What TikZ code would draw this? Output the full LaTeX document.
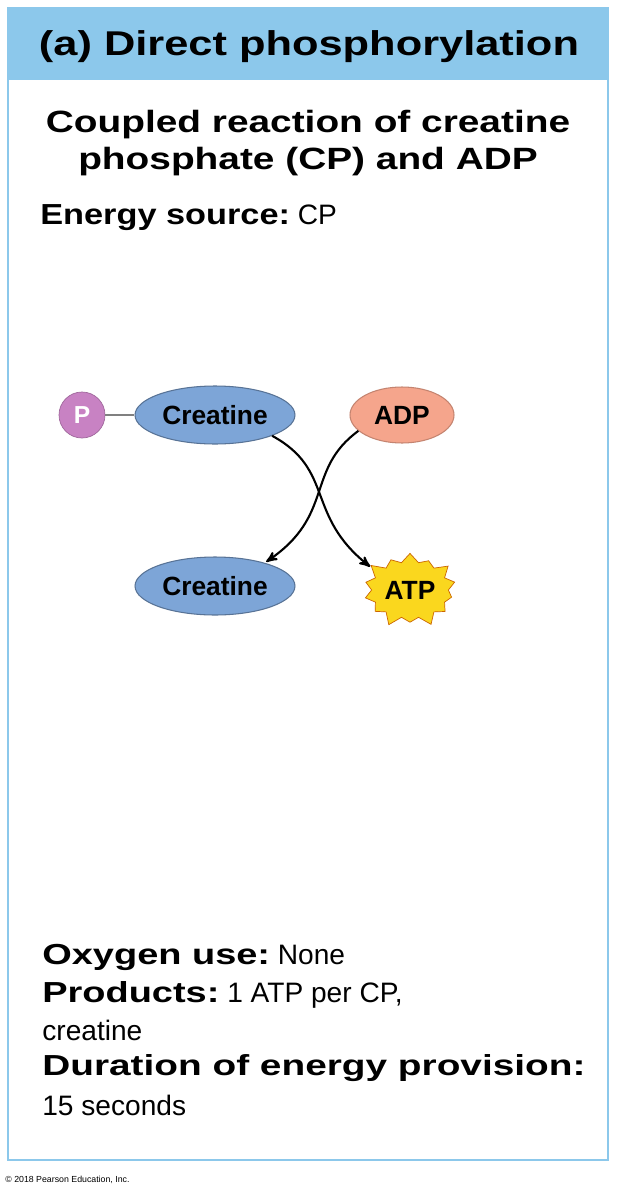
\documentclass[tikz,border=0pt]{standalone}
\usepackage{fontspec}
\setmainfont{Liberation Sans}
\usetikzlibrary{arrows,shapes.geometric,shapes.symbols}
\definecolor{frameblue}{RGB}{140,200,235}
\definecolor{creablue}{RGB}{125,165,215}
\definecolor{adpred}{RGB}{245,165,140}
\definecolor{ppurple}{RGB}{200,130,195}
\definecolor{atpyellow}{RGB}{250,215,30}
\newcommand{\widebf}[2][1.3]{\scalebox{#1}[1.03]{\bfseries #2}}
\begin{document}
\begin{tikzpicture}[x=0.02cm,y=-0.02cm,>=stealth',
    mol/.style={ellipse,draw=creablue!70!black,line width=0.6pt,inner sep=1pt,font=\fontsize{15}{18}\bfseries\selectfont},
    txt/.style={anchor=west,font=\fontsize{16}{19}\selectfont,inner sep=0pt},
    react/.style={->,line width=1.2pt,shorten >=1pt}]
    \useasboundingbox (0,0) rectangle (616,1200);
    \fill[white] (0,0) rectangle (616,1200);
    \fill[frameblue] (8,8) rectangle (608,80);
    \draw[frameblue,line width=1.5pt] (8,8) rectangle (608,1160);
    \node[font=\fontsize{19}{22}\selectfont] (title) at (309,47) {\widebf{(a) Direct phosphorylation}};
    \node[font=\fontsize{17}{20}\selectfont] (head) at (308,125) {\widebf{Coupled reaction of creatine}};
    \node[font=\fontsize{17}{20}\selectfont] (head2) at (308,162) {\widebf{phosphate (CP) and ADP}};
    \node[txt] (source) at (40,218) {\widebf[1.22]{Energy source:} CP};
    % reactants
    \node[circle,fill=ppurple,draw=ppurple!80!black,minimum size=0.92cm,inner sep=0pt,text=white,font=\fontsize{14}{16}\bfseries\selectfont] (p) at (82,415) {P};
    \node[mol,fill=creablue,minimum width=3.2cm,minimum height=1.16cm] (cp) at (215,415) {Creatine};
    \node[mol,fill=adpred,draw=adpred!80!black,minimum width=2.08cm,minimum height=1.12cm] (adp) at (402,415) {ADP};
    \draw[gray,line width=1pt] (p) -- (cp);
    % products
    \node[mol,fill=creablue,minimum width=3.2cm,minimum height=1.16cm] (cr) at (215,586) {Creatine};
    \node[starburst,starburst points=14,starburst point height=0.24cm,fill=atpyellow,draw=orange!80!black,minimum width=1.84cm,minimum height=1.6cm,inner sep=1pt,font=\fontsize{15}{18}\bfseries\selectfont] (atp) at (410,590) {ATP};
    \draw[react] (cp.-20) .. controls (335,470) and (305,515) .. (atp.150);
    \draw[react] (adp.200) .. controls (305,470) and (335,515) .. (cr.25);
    % summary
    \node[txt] (oxy) at (42,957) {\widebf[1.35]{Oxygen use:} None};
    \node[txt] (prod) at (42,995) {\widebf[1.35]{Products:} 1 ATP per CP,};
    \node[txt] (prod2) at (42,1030) {creatine};
    \node[txt] (dur) at (42,1068) {\widebf[1.38]{Duration of energy provision:}};
    \node[txt] (dur2) at (42,1105) {15 seconds};
    \node[anchor=west,inner sep=0pt,font=\fontsize{5}{6}\selectfont] (copy) at (5,1180) {\textcopyright\ 2018 Pearson Education, Inc.};
\end{tikzpicture}
\end{document}
